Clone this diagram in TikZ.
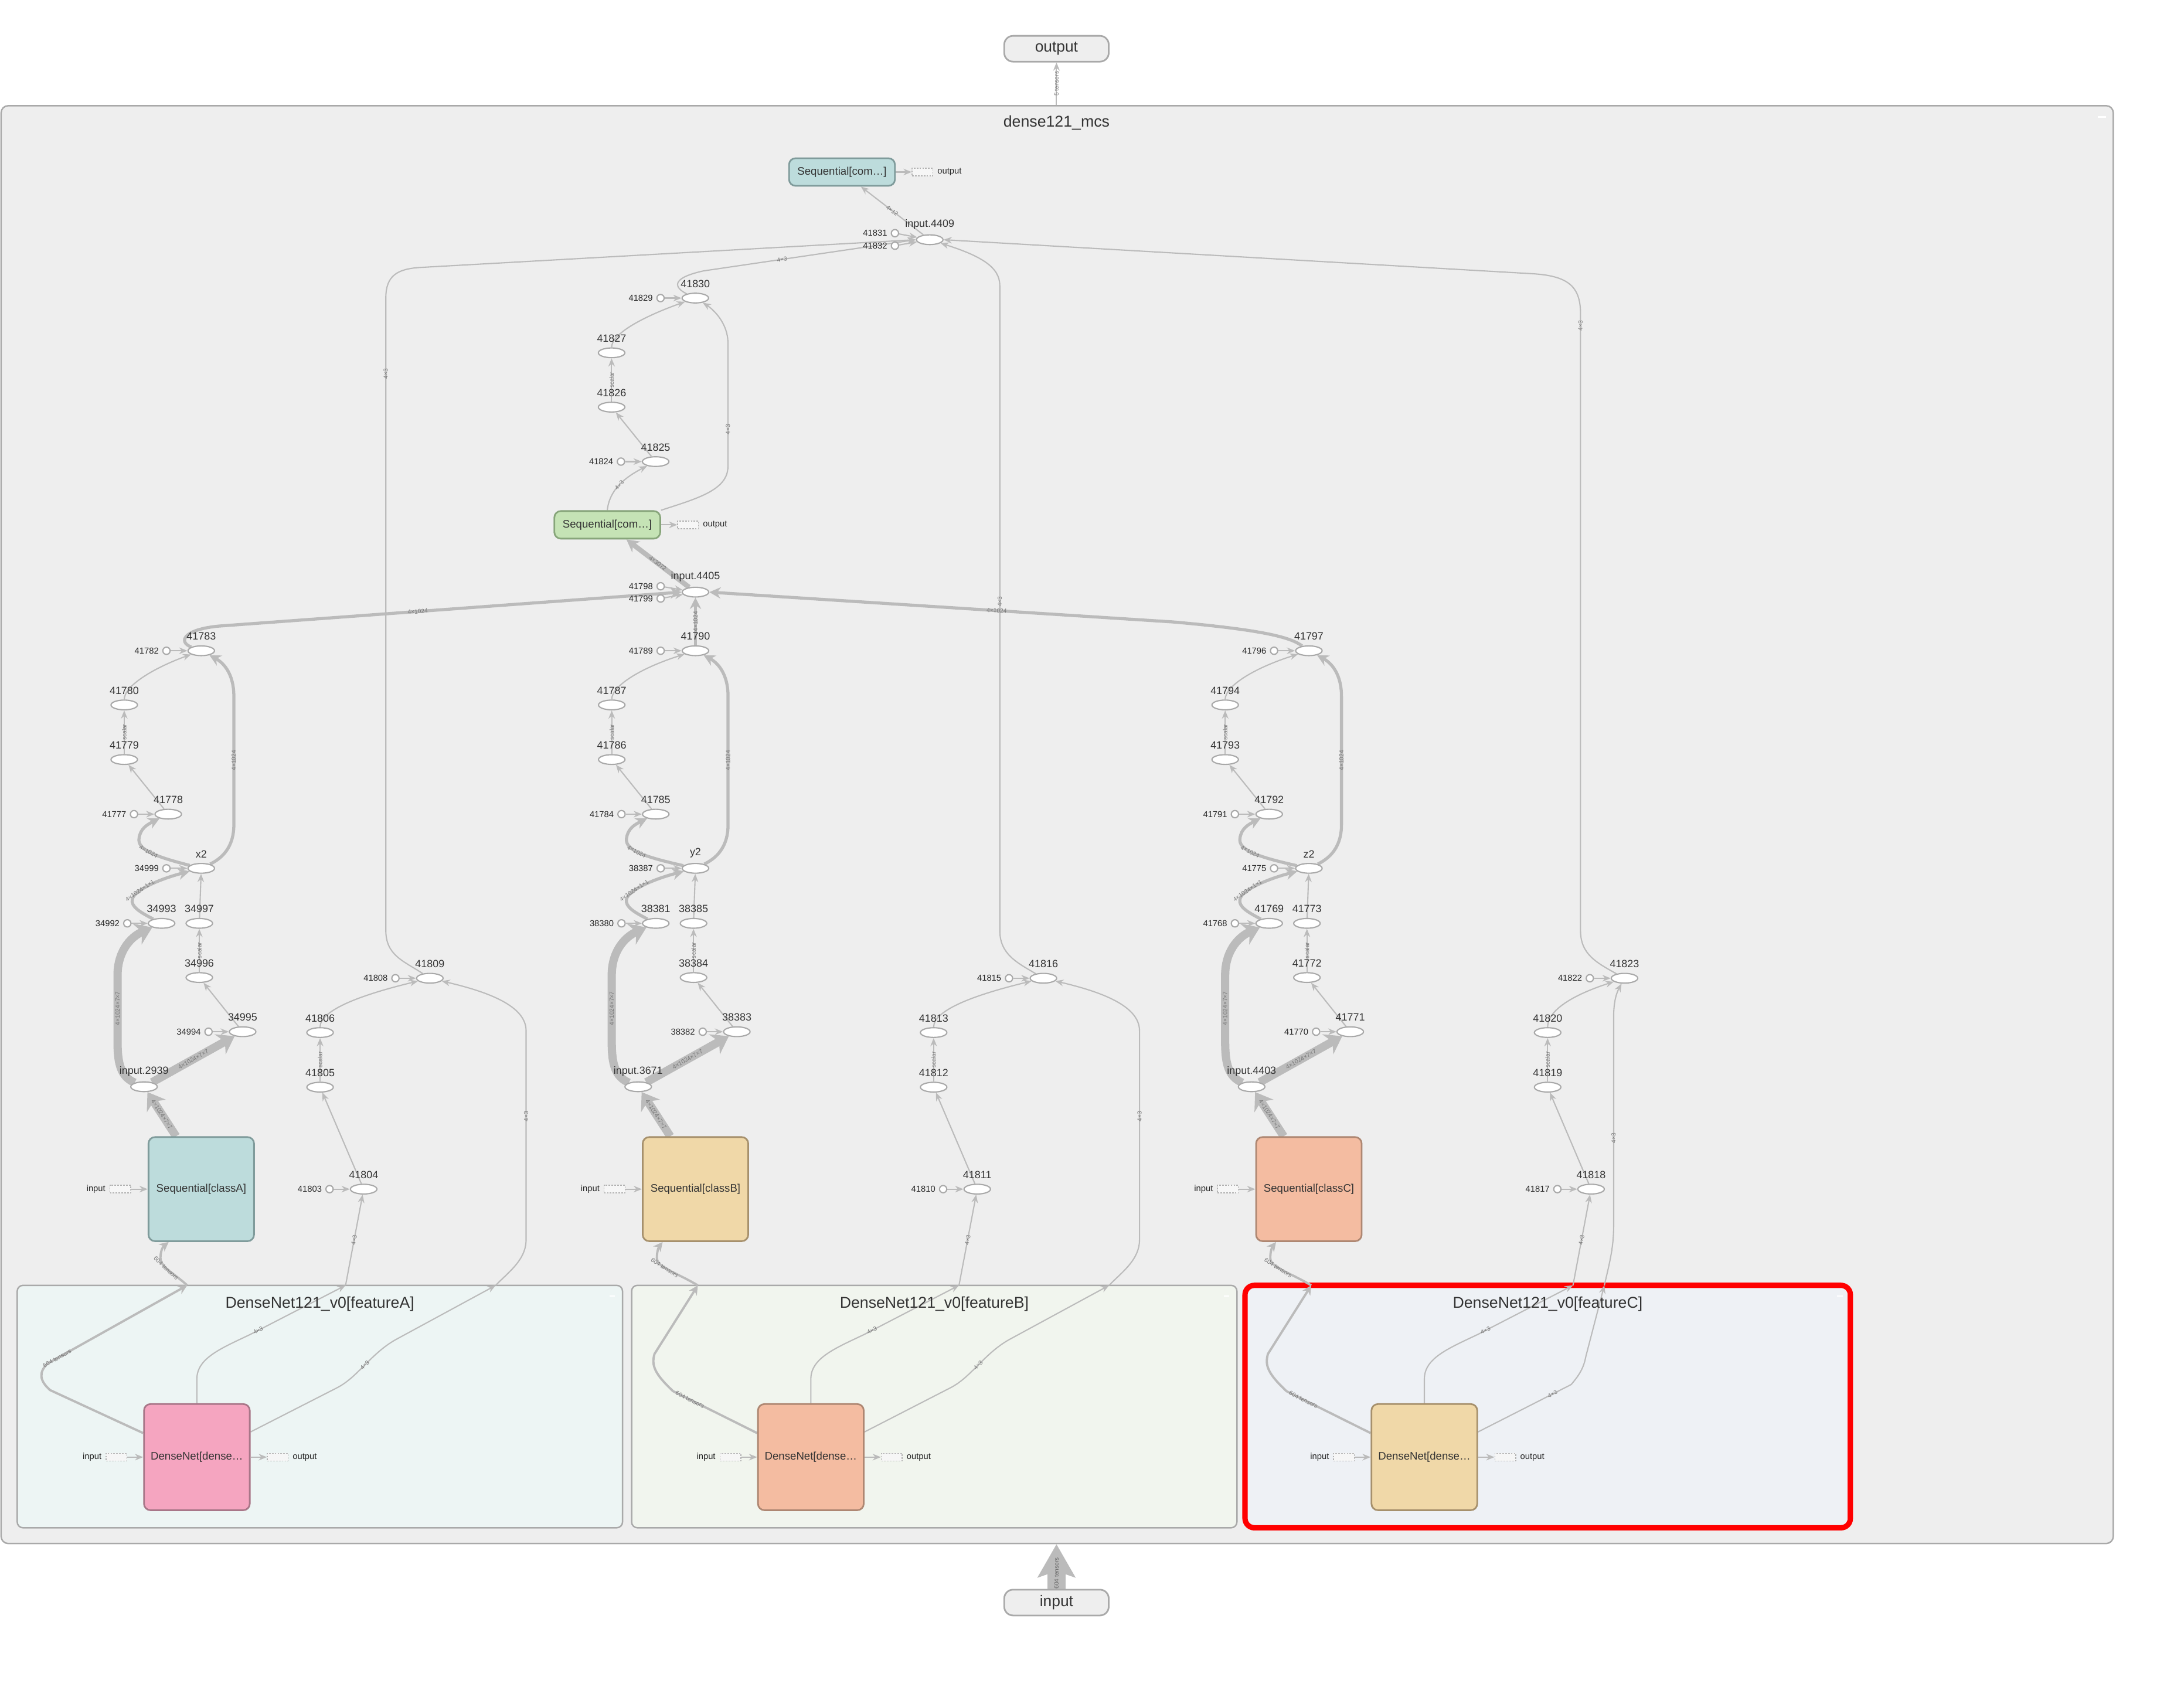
\documentclass[tikz,border=0pt]{standalone}
\usepackage{fontspec}
\setmainfont{Liberation Sans}
\usetikzlibrary{arrows.meta,shapes.geometric,calc}
\pgfdeclarelayer{bgw}
\pgfdeclarelayer{bg}
\pgfdeclarelayer{edges}
\pgfsetlayers{bgw,bg,edges,main}
\definecolor{edgec}{HTML}{BBBBBB}
\definecolor{nodeb}{HTML}{A9A9A9}
\definecolor{grpf}{HTML}{EEEEEE}
\definecolor{gAf}{HTML}{EDF5F4}
\definecolor{gBf}{HTML}{F1F5EE}
\definecolor{gCf}{HTML}{EEF1F5}
\definecolor{tealf}{HTML}{BDDCDC}
\definecolor{teald}{HTML}{7F9B9B}
\definecolor{greenf}{HTML}{C5E3B5}
\definecolor{greend}{HTML}{87A57A}
\definecolor{tanf}{HTML}{F0D8A8}
\definecolor{tand}{HTML}{A6906C}
\definecolor{salf}{HTML}{F4BCA1}
\definecolor{sald}{HTML}{AE8772}
\definecolor{pinkf}{HTML}{F5A5C0}
\definecolor{pinkd}{HTML}{A87688}
\definecolor{txt}{HTML}{333333}
\definecolor{lblc}{HTML}{777777}
\newcommand\myfs[1]{\fontsize{#1}{#1}\selectfont}
\tikzset{
  opn/.style={ellipse, draw=nodeb, fill=white, line width=0.6pt,
    minimum width=0.452cm, minimum height=0.166cm, inner sep=0pt,
    label={[font=\myfs{5.1pt}, text=txt, inner sep=0pt, label distance=2.3pt]above:#1}},
  cstn/.style={circle, draw=nodeb, fill=white, line width=0.6pt,
    minimum size=0.124cm, inner sep=0pt,
    label={[font=\myfs{4.2pt}, text=black!85, inner sep=0pt, label distance=1.5pt]left:#1}},
  stubn/.style={rectangle, draw=black!30, fill=grpf!50, line width=0.4pt,
    dash pattern=on 0.8pt off 0.6pt, minimum width=0.356cm, minimum height=0.131cm, inner sep=0pt},
  stubl/.style={font=\myfs{4.2pt}, text=black!85, inner sep=0pt, label distance=1.8pt},
  grpn/.style={rectangle, rounded corners=0.1cm, draw=nodeb, line width=0.7pt, inner sep=0pt},
  ttl/.style={font=\myfs{7.6pt}, text=txt, inner sep=0pt},
  outern/.style={rectangle, rounded corners=0.15cm, draw=nodeb, fill=grpf, line width=0.8pt,
    minimum width=1.782cm, minimum height=0.44cm, inner sep=0pt, font=\myfs{7.5pt}, text=txt},
  boxs/.style={rectangle, rounded corners=0.11cm, line width=0.8pt, inner sep=0pt, text=txt, font=\myfs{5.3pt}},
  seqsm/.style={boxs, minimum width=1.806cm, minimum height=0.47cm},
  clsbox/.style={boxs, minimum width=1.8cm, minimum height=1.775cm},
  dnbox/.style={boxs, minimum width=1.804cm, minimum height=1.81cm},
  ethin/.style={draw=edgec, line width=0.6pt, -{Stealth[length=4pt,width=3.2pt]}},
  emid/.style={draw=edgec, line width=1.5pt, -{Stealth[length=5.5pt,width=5.5pt]}},
  ethick/.style={draw=edgec, line width=4pt, -{Stealth[length=8pt,width=11pt]}},
  e604/.style={draw=edgec, line width=1.1pt, -{Stealth[length=4.5pt,width=4.5pt]}},
  e3072/.style={draw=edgec, line width=2.4pt, -{Stealth[length=6pt,width=6.5pt]}},
  ebig/.style={draw=edgec, line width=9pt, -{Stealth[length=16pt,width=18pt,inset=3pt]}},
  elbl/.style={font=\myfs{2.9pt}, text=lblc, inner sep=0.2pt, sloped}
}
\begin{document}
\begin{tikzpicture}[x=0.023763cm, y=-0.023763cm, line join=round]
\begin{pgfonlayer}{bgw}
\fill[white] (0,0) rectangle (1568,1211);
\end{pgfonlayer}
\useasboundingbox (0,0) rectangle (1568,1211);
\begin{pgfonlayer}{bg}
\node[grpn, fill=grpf, minimum width=36.025cm, minimum height=24.523cm, rounded corners=0.12cm] (main) at (759,592) {};
\node[grpn, fill=gAf, minimum width=10.325cm, minimum height=4.135cm] (gA) at (229.65,1009.8) {};
\node[grpn, fill=gBf, minimum width=10.325cm, minimum height=4.135cm] (gB) at (670.75,1009.8) {};
\node[grpn, fill=gCf, draw=red, line width=2.6pt, rounded corners=0.16cm, minimum width=10.325cm, minimum height=4.135cm] (gC) at (1111.15,1009.8) {};
\end{pgfonlayer}
% titles
\node[ttl] (mainT) at (758.5,88) {dense121\_mcs};
\node[ttl] (gAT) at (229.65,936) {DenseNet121\_v0[featureA]};
\node[ttl] (gBT) at (670.75,936) {DenseNet121\_v0[featureB]};
\node[ttl] (gCT) at (1111.15,936) {DenseNet121\_v0[featureC]};
\draw[white, line width=0.7pt] (1506,84) -- (1512,84);
\draw[white, line width=0.7pt] (437.5,930.5) -- (441.5,930.5);
\draw[white, line width=0.7pt] (878.6,930.5) -- (882.6,930.5);
\draw[white, line width=0.7pt] (1319,930.5) -- (1323,930.5);
% outer nodes
\node[outern] (outN) at (758.5,35) {output};
\node[outern] (inN) at (758.5,1150.5) {input};
% top
\node[seqsm, fill=tealf, draw=teald] (seqT) at (604.5,123.5) {Sequential[com…]};
\node[stubn, label={[stubl]right:output}] (seqTo) at (662.3,123.5) {};
\node[opn=input.4409] (i4409) at (667.5,172.1) {};
\node[cstn=41831] (c41831) at (642.5,167.4) {};
\node[cstn=41832] (c41832) at (642.5,176.4) {};
% column B upper
\node[opn=41830] (n41830) at (499.2,214) {};
\node[cstn=41829] (c41829) at (474.2,214) {};
\node[opn=41827] (n41827) at (439.1,253.3) {};
\node[opn=41826] (n41826) at (439.1,292.3) {};
\node[opn=41825] (n41825) at (470.7,331.4) {};
\node[cstn=41824] (c41824) at (445.8,331.4) {};
\node[seqsm, fill=greenf, draw=greend] (seqG) at (436,376.8) {Sequential[com…]};
\node[stubn, label={[stubl]right:output}] (seqGo) at (494,376.8) {};
\node[opn=input.4405] (i4405) at (499.3,425.1) {};
\node[cstn=41798] (c41798) at (474.3,420.9) {};
\node[cstn=41799] (c41799) at (474.3,429.7) {};
% column C
\node[opn=41797] (n41797) at (939.7,467.2) {};
\node[cstn=41796] (c41796) at (914.7,467.2) {};
\node[opn=41794] (n41794) at (879.6,506.1) {};
\node[opn=41793] (n41793) at (879.6,545.3) {};
\node[opn=41792] (n41792) at (911.2,584.5) {};
\node[cstn=41791] (c41791) at (886.6,584.5) {};
\node[opn=z2] (nz2) at (939.7,623.4) {};
\node[cstn=41775] (c41775) at (914.7,623.4) {};
\node[opn=41769] (n41769) at (911.2,662.9) {};
\node[cstn=41768] (c41768) at (886.6,662.9) {};
\node[opn=41773] (n41773) at (938.3,662.9) {};
\node[opn=41772] (n41772) at (938.3,701.8) {};
\node[opn=41771] (n41771) at (969.4,740.7) {};
\node[cstn=41770] (c41770) at (944.9,740.7) {};
\node[opn=input.4403] (i4403) at (898.6,780.2) {};
\node[clsbox, fill=salf, draw=sald] (clsC) at (939.7,853.7) {Sequential[classC]};
\node[stubn, label={[stubl]left:input}] (clsCin) at (881.6,853.7) {};
% column B
\node[opn=41790] (n41790) at (499.3,467.2) {};
\node[cstn=41789] (c41789) at (474.3,467.2) {};
\node[opn=41787] (n41787) at (439.2,506.1) {};
\node[opn=41786] (n41786) at (439.2,545.3) {};
\node[opn=41785] (n41785) at (470.8,584.5) {};
\node[cstn=41784] (c41784) at (446.2,584.5) {};
\node[opn=y2] (ny2) at (499.3,623.4) {};
\node[cstn=38387] (c38387) at (474.3,623.4) {};
\node[opn=38381] (n38381) at (470.8,662.9) {};
\node[cstn=38380] (c38380) at (446.2,662.9) {};
\node[opn=38385] (n38385) at (497.9,662.9) {};
\node[opn=38384] (n38384) at (497.9,701.8) {};
\node[opn=38383] (n38383) at (529,740.7) {};
\node[cstn=38382] (c38382) at (504.5,740.7) {};
\node[opn=input.3671] (i3671) at (458.2,780.2) {};
\node[clsbox, fill=tanf, draw=tand] (clsB) at (499.3,853.7) {Sequential[classB]};
\node[stubn, label={[stubl]left:input}] (clsBin) at (441.2,853.7) {};
% column A
\node[opn=41783] (n41783) at (144.5,467.2) {};
\node[cstn=41782] (c41782) at (119.5,467.2) {};
\node[opn=41780] (n41780) at (89.2,506.1) {};
\node[opn=41779] (n41779) at (89.2,545.3) {};
\node[opn=41778] (n41778) at (120.8,584.5) {};
\node[cstn=41777] (c41777) at (96.2,584.5) {};
\node[opn=x2] (nx2) at (144.5,623.4) {};
\node[cstn=34999] (c34999) at (119.5,623.4) {};
\node[opn=34993] (n34993) at (116,662.9) {};
\node[cstn=34992] (c34992) at (91.4,662.9) {};
\node[opn=34997] (n34997) at (143.1,662.9) {};
\node[opn=34996] (n34996) at (143.1,701.8) {};
\node[opn=34995] (n34995) at (174.2,740.7) {};
\node[cstn=34994] (c34994) at (149.7,740.7) {};
\node[opn=input.2939] (i2939) at (103.4,780.2) {};
\node[clsbox, fill=tealf, draw=teald] (clsA) at (144.5,853.7) {Sequential[classA]};
\node[stubn, label={[stubl]left:input}] (clsAin) at (86.4,853.7) {};
% feature columns
\node[opn=41809] (n41809) at (308.6,702.3) {};
\node[cstn=41808] (c41808) at (283.9,702.3) {};
\node[opn=41806] (n41806) at (229.8,741.3) {};
\node[opn=41805] (n41805) at (229.8,780.5) {};
\node[opn=41804] (n41804) at (261.1,853.7) {};
\node[cstn=41803] (c41803) at (236.6,853.7) {};
\node[opn=41816] (n41816) at (749.1,702.3) {};
\node[cstn=41815] (c41815) at (724.4,702.3) {};
\node[opn=41813] (n41813) at (670.3,741.3) {};
\node[opn=41812] (n41812) at (670.3,780.5) {};
\node[opn=41811] (n41811) at (701.6,853.7) {};
\node[cstn=41810] (c41810) at (677.1,853.7) {};
\node[opn=41823] (n41823) at (1166.3,702.3) {};
\node[cstn=41822] (c41822) at (1141.4,702.3) {};
\node[opn=41820] (n41820) at (1111.1,741.3) {};
\node[opn=41819] (n41819) at (1111.1,780.5) {};
\node[opn=41818] (n41818) at (1142.3,853.7) {};
\node[cstn=41817] (c41817) at (1118.1,853.7) {};
% DenseNet boxes
\node[dnbox, fill=pinkf, draw=pinkd] (dA) at (141.35,1046.1) {DenseNet[dense…};
\node[stubn, label={[stubl]left:input}] (dAin) at (83.6,1046.1) {};
\node[stubn, label={[stubl]right:output}] (dAout) at (199.4,1046.1) {};
\node[dnbox, fill=salf, draw=sald] (dB) at (582.15,1046.1) {DenseNet[dense…};
\node[stubn, label={[stubl]left:input}] (dBin) at (524.4,1046.1) {};
\node[stubn, label={[stubl]right:output}] (dBout) at (640.2,1046.1) {};
\node[dnbox, fill=tanf, draw=tand] (dC) at (1022.6,1046.1) {DenseNet[dense…};
\node[stubn, label={[stubl]left:input}] (dCin) at (964.9,1046.1) {};
\node[stubn, label={[stubl]right:output}] (dCout) at (1080.7,1046.1) {};
% group entry points
\coordinate (gAe1) at (134.4,922.8);
\coordinate (gAe2) at (248.1,922.8);
\coordinate (gAe3) at (355.9,922.8);
\coordinate (gBe1) at (501,922.8);
\coordinate (gBe2) at (688.5,922.8);
\coordinate (gBe3) at (796.3,922.8);
\coordinate (gCe1) at (941.4,922.8);
\coordinate (gCe2) at (1129.3,922.8);
\coordinate (gCe3) at (1151.8,922.8);

\begin{pgfonlayer}{edges}
% outer
\draw[ethin] (main.north -| outN) -- node[elbl]{5 tensors} (outN);
\draw[ebig] (inN) -- node[elbl,pos=0.35,text=black!60]{604 tensors} (main.south -| inN);
% top
\draw[ethin] (seqT) -- (seqTo);
\draw[ethin] (i4409) -- node[elbl]{4×12} (seqT);
\draw[ethin] (c41831) -- (i4409);
\draw[ethin] (c41832) -- (i4409);
\draw[ethin] (n41809) .. controls (290,690) and (277,686) .. (277,668) -- node[elbl,pos=0.88]{4×3} (277,214) .. controls (277,198) and (285,193) .. (302,192) -- (i4409.west);
\draw[ethin] (n41830) .. controls (485,207) and (480,200) .. (505,194.5) -- node[elbl,pos=0.37]{4×3} (i4409.west);
\draw[ethin] (n41816) .. controls (730,691) and (717.8,685) .. (717.8,668) -- node[elbl,pos=0.51]{4×3} (717.8,205) .. controls (717.8,192) and (705,184) .. (i4409);
\draw[ethin] (n41823) .. controls (1146,691) and (1134.7,685) .. (1134.7,668) -- node[elbl,pos=0.98]{4×3} (1134.7,225) .. controls (1134.7,205) and (1125,198) .. (1100,196.5) -- (i4409.east);
% column B upper
\draw[ethin] (c41829) -- (n41830);
\draw[ethin] (n41827.north) .. controls (439.1,240) and (460,228) .. (n41830);
\draw[ethin] (n41826) -- node[elbl]{scalar} (n41827);
\draw[ethin] (n41825) -- (n41826);
\draw[ethin] (c41824) -- (n41825);
\draw[ethin] (seqG.north) .. controls (437.5,352) and (448,343) .. node[elbl,pos=0.5]{4×3} (n41825);
\draw[ethin] (seqG.north east) .. controls (500,358) and (522.6,352) .. (522.6,335) -- node[elbl,pos=0.3]{4×3} (522.6,246) .. controls (522.6,232) and (512,222) .. (n41830);
\draw[ethin] (seqG) -- (seqGo);
\draw[e3072] (i4405) -- node[elbl]{4×3072} (seqG);
\draw[ethin] (c41798) -- (i4405);
\draw[ethin] (c41799) -- (i4405);
\draw[emid] (n41790) -- node[elbl]{4×1024} (i4405);
\draw[emid] (n41783) .. controls (128,461) and (131,452) .. (157,449.5) -- node[elbl,pos=0.43]{4×1024} (i4405.west);
\draw[emid] (n41797) .. controls (927,458) and (910,452.5) .. (842,446.5) -- node[elbl,pos=0.38]{4×1024} (i4405.east);
% column C edges
\draw[ethin] (c41796) -- (n41797);
\draw[ethin] (n41794.north) .. controls (879.6,492) and (902,479) .. (n41797);
\draw[ethin] (n41793) -- node[elbl]{scalar} (n41794);
\draw[ethin] (n41792) -- (n41793);
\draw[ethin] (c41791) -- (n41792);
\draw[emid] (nz2) .. controls (902,615) and (889,610) .. node[elbl,pos=0.55]{4×1024} (890.2,602) .. controls (891,595) and (896,592) .. (n41792);
\draw[emid] (nz2) .. controls (955,616) and (963.1,608) .. (963.1,592) -- node[elbl]{4×1024} (963.1,500) .. controls (963.1,484) and (956,476) .. (n41797);
\draw[ethin] (c41775) -- (nz2);
\draw[emid] (n41769) .. controls (896,655) and (889,651) .. (890.2,645.6) .. controls (891.5,639) and (910,631) .. node[elbl,pos=0.3]{4×1024×1×1} (nz2);
\draw[ethin] (n41773) -- (nz2);
\draw[ethin] (n41772) -- node[elbl]{scalar} (n41773);
\draw[ethin] (n41771) -- (n41772);
\draw[ethin] (c41770) -- (n41771);
\draw[ethin] (c41768) -- (n41769);
\draw[ethick] (i4403) .. controls (882,773) and (879.6,764) .. (879.6,748) -- node[elbl]{4×1024×7×7} (879.6,700) .. controls (879.6,684) and (888,673) .. (n41769);
\draw[ethick] (i4403) -- node[elbl]{4×1024×7×7} (n41771);
\draw[ethick] ([xshift=-0.43cm]clsC.north) -- node[elbl]{4×1024×7×7} (i4403);
\draw[ethin] (clsCin) -- (clsC);
% column B edges
\draw[ethin] (c41789) -- (n41790);
\draw[ethin] (n41787.north) .. controls (439.2,492) and (461.6,479) .. (n41790);
\draw[ethin] (n41786) -- node[elbl]{scalar} (n41787);
\draw[ethin] (n41785) -- (n41786);
\draw[ethin] (c41784) -- (n41785);
\draw[emid] (ny2) .. controls (461.6,615) and (448.6,610) .. node[elbl,pos=0.55]{4×1024} (449.8,602) .. controls (450.6,595) and (455.6,592) .. (n41785);
\draw[emid] (ny2) .. controls (514.6,616) and (522.7,608) .. (522.7,592) -- node[elbl]{4×1024} (522.7,500) .. controls (522.7,484) and (515.6,476) .. (n41790);
\draw[ethin] (c38387) -- (ny2);
\draw[emid] (n38381) .. controls (455.6,655) and (448.6,651) .. (449.8,645.6) .. controls (451.1,639) and (469.6,631) .. node[elbl,pos=0.3]{4×1024×1×1} (ny2);
\draw[ethin] (n38385) -- (ny2);
\draw[ethin] (n38384) -- node[elbl]{scalar} (n38385);
\draw[ethin] (n38383) -- (n38384);
\draw[ethin] (c38382) -- (n38383);
\draw[ethin] (c38380) -- (n38381);
\draw[ethick] (i3671) .. controls (441.6,773) and (439.2,764) .. (439.2,748) -- node[elbl]{4×1024×7×7} (439.2,700) .. controls (439.2,684) and (447.6,673) .. (n38381);
\draw[ethick] (i3671) -- node[elbl]{4×1024×7×7} (n38383);
\draw[ethick] ([xshift=-0.43cm]clsB.north) -- node[elbl]{4×1024×7×7} (i3671);
\draw[ethin] (clsBin) -- (clsB);
% column A edges
\draw[ethin] (c41782) -- (n41783);
\draw[ethin] (n41780.north) .. controls (89.2,492) and (111.6,479) .. (n41783);
\draw[ethin] (n41779) -- node[elbl]{scalar} (n41780);
\draw[ethin] (n41778) -- (n41779);
\draw[ethin] (c41777) -- (n41778);
\draw[emid] (nx2) .. controls (111.6,615) and (98.6,610) .. node[elbl,pos=0.55]{4×1024} (99.8,602) .. controls (100.6,595) and (105.6,592) .. (n41778);
\draw[emid] (nx2) .. controls (159.8,616) and (167.9,608) .. (167.9,592) -- node[elbl]{4×1024} (167.9,500) .. controls (167.9,484) and (160.8,476) .. (n41783);
\draw[ethin] (c34999) -- (nx2);
\draw[emid] (n34993) .. controls (100.8,655) and (93.8,651) .. (95,645.6) .. controls (96.3,639) and (114.8,631) .. node[elbl,pos=0.3]{4×1024×1×1} (nx2);
\draw[ethin] (n34997) -- (nx2);
\draw[ethin] (n34996) -- node[elbl]{scalar} (n34997);
\draw[ethin] (n34995) -- (n34996);
\draw[ethin] (c34994) -- (n34995);
\draw[ethin] (c34992) -- (n34993);
\draw[ethick] (i2939) .. controls (86.8,773) and (84.4,764) .. (84.4,748) -- node[elbl]{4×1024×7×7} (84.4,700) .. controls (84.4,684) and (92.8,673) .. (n34993);
\draw[ethick] (i2939) -- node[elbl]{4×1024×7×7} (n34995);
\draw[ethick] ([xshift=-0.43cm]clsA.north) -- node[elbl]{4×1024×7×7} (i2939);
\draw[ethin] (clsAin) -- (clsA);
% feature columns
\draw[ethin] (c41803) -- (n41804);
\draw[ethin] (n41804) -- (n41805);
\draw[ethin] (n41805) -- node[elbl]{scalar} (n41806);
\draw[ethin] (n41806.north) .. controls (229.8,725) and (260,714) .. (n41809);
\draw[ethin] (c41808) -- (n41809);
\draw[ethin] (c41810) -- (n41811);
\draw[ethin] (n41811) -- (n41812);
\draw[ethin] (n41812) -- node[elbl]{scalar} (n41813);
\draw[ethin] (n41813.north) .. controls (670.3,725) and (700.5,714) .. (n41816);
\draw[ethin] (c41815) -- (n41816);
\draw[ethin] (c41817) -- (n41818);
\draw[ethin] (n41818) -- (n41819);
\draw[ethin] (n41819) -- node[elbl]{scalar} (n41820);
\draw[ethin] (n41820.north) .. controls (1111.1,725) and (1130,714) .. (n41823);
\draw[ethin] (c41822) -- (n41823);
% DenseNet stubs
\draw[ethin] (dAin) -- (dA);
\draw[ethin] (dA) -- (dAout);
\draw[ethin] (dBin) -- (dB);
\draw[ethin] (dB) -- (dBout);
\draw[ethin] (dCin) -- (dC);
\draw[ethin] (dC) -- (dCout);
% group A crossings
\draw[e604] ([yshift=0.41cm]dA.west) -- (36,998) .. controls (28,991) and (28,985) .. (34,979) -- node[elbl,pos=0.07]{604 tensors} (gAe1);
\draw[e604] (gAe1) .. controls (125,914) and (115.2,910) .. node[elbl,pos=0.6]{604 tensors} (115.2,903) .. controls (115.2,898) and (117,895) .. ([xshift=-0.556cm]clsA.south);
\draw[ethin] (dA.north) -- (141.35,990) .. controls (141.35,975) and (158.75,968) .. (179.75,958) -- node[elbl,pos=0.08]{4×3} (gAe2);
\draw[ethin] (gAe2) -- node[elbl]{4×3} (n41804);
\draw[ethin] ([yshift=0.43cm]dA.east) -- (242,996.3) .. controls (257,988.6) and (266,972) .. node[elbl]{4×3} (284,961.8) -- (gAe3);
\draw[ethin] (gAe3) .. controls (364,914) and (377.7,905) .. (377.7,890) -- node[elbl,pos=0.59]{4×3} (377.7,740) .. controls (377.7,722) and (350,712) .. (n41809);
% group B crossings
\draw[e604] ([yshift=0.41cm]dB.west) -- node[elbl,pos=0.8]{604 tensors} (483.3,998.8) .. controls (469.6,986) and (467.6,980) .. (469.9,972) -- (gBe1);
\draw[e604] (gBe1) .. controls (484.6,913) and (471.6,910) .. node[elbl,pos=0.6]{604 tensors} (471.6,903) .. controls (471.6,898) and (473.1,895) .. ([xshift=-0.56cm]clsB.south);
\draw[ethin] (dB.north) -- (582.15,990) .. controls (582.15,975) and (599.55,968) .. (620.55,958) -- node[elbl,pos=0.08]{4×3} (gBe2);
\draw[ethin] (gBe2) -- node[elbl]{4×3} (n41811);
\draw[ethin] ([yshift=0.43cm]dB.east) -- (682.4,996.3) .. controls (697.4,988.6) and (706.4,972) .. node[elbl]{4×3} (724.4,961.8) -- (gBe3);
\draw[ethin] (gBe3) .. controls (804.4,914) and (818.1,905) .. (818.1,890) -- node[elbl,pos=0.59]{4×3} (818.1,740) .. controls (818.1,722) and (790.4,712) .. (n41816);
% group C crossings
\draw[e604] ([yshift=0.41cm]dC.west) -- node[elbl,pos=0.8]{604 tensors} (923.7,998.8) .. controls (910,986) and (908,980) .. (910.3,972) -- (gCe1);
\draw[e604] (gCe1) .. controls (925,913) and (912,910) .. node[elbl,pos=0.6]{604 tensors} (912,903) .. controls (912,898) and (913.5,895) .. ([xshift=-0.56cm]clsC.south);
\draw[ethin] (dC.north) -- (1022.6,990) .. controls (1022.6,975) and (1040,968) .. (1061,958) -- node[elbl,pos=0.08]{4×3} (gCe2);
\draw[ethin] (gCe2) -- node[elbl]{4×3} (n41818);
\draw[ethin] ([yshift=0.43cm]dC.east) -- node[elbl,pos=0.8]{4×3} (1128,994) .. controls (1134,987) and (1137,982) .. (1138.5,974) -- (gCe3);
\draw[ethin] (gCe3) .. controls (1156,905) and (1158.5,895) .. (1158.5,880) -- node[elbl,pos=0.42]{4×3} (1158.5,730) .. controls (1158.5,718) and (1161,712) .. (n41823);
\end{pgfonlayer}
\end{tikzpicture}
\end{document}
